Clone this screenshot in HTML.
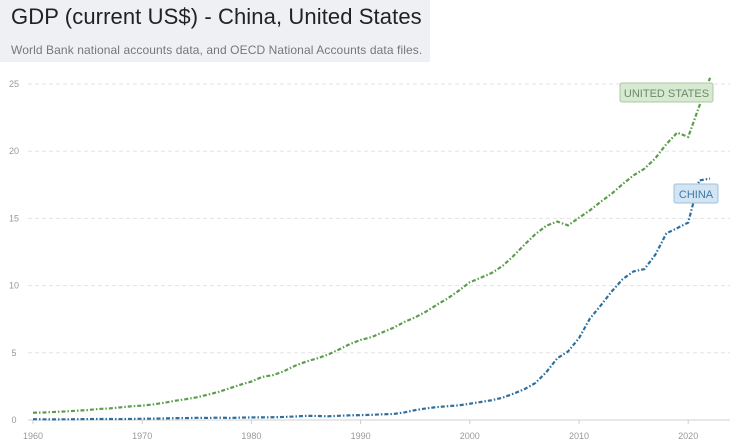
<!DOCTYPE html>
<html><head><meta charset="utf-8"><style>
body{margin:0;width:743px;height:448px;background:#fff;overflow:hidden;font-family:"Liberation Sans",sans-serif}
#hdr{position:absolute;left:0;top:0;width:430px;height:62px;background:#eef0f4}
#title{position:absolute;left:11px;top:4px;font-size:22px;color:#222;letter-spacing:0.1px}
#sub{position:absolute;left:11px;top:43px;font-size:12px;color:#777;letter-spacing:0.1px}
svg{position:absolute;left:0;top:0}
</style></head><body>
<div id="hdr">
<div id="title">GDP (current US$) - China, United States</div>
<div id="sub">World Bank national accounts data, and OECD National Accounts data files.</div>
</div>
<svg id="c" width="743" height="448"></svg>
<script>
const years=[];for(let y=1960;y<=2022;y++)years.push(y);
const usGDP=[0.54,0.56,0.60,0.64,0.69,0.74,0.82,0.86,0.94,1.02,1.07,1.16,1.28,1.43,1.55,1.69,1.88,2.09,2.36,2.63,2.86,3.21,3.34,3.64,4.04,4.34,4.58,4.86,5.24,5.64,5.96,6.16,6.52,6.86,7.29,7.64,8.07,8.58,9.06,9.63,10.25,10.58,10.94,11.46,12.21,13.04,13.82,14.45,14.77,14.48,15.05,15.6,16.25,16.84,17.55,18.21,18.7,19.48,20.53,21.38,21.06,23.32,25.46];
const chinaGDP=[0.06,0.05,0.047,0.051,0.059,0.070,0.076,0.073,0.071,0.080,0.093,0.100,0.114,0.139,0.144,0.163,0.154,0.175,0.150,0.178,0.191,0.196,0.205,0.230,0.260,0.309,0.301,0.273,0.312,0.348,0.361,0.383,0.427,0.445,0.564,0.734,0.864,0.962,1.03,1.09,1.21,1.34,1.47,1.66,1.96,2.29,2.75,3.55,4.59,5.10,6.09,7.55,8.53,9.57,10.48,11.06,11.23,12.31,13.89,14.28,14.69,17.82,17.96];
const yTicks=[0,5,10,15,20,25];
const xTicks=[1960,1970,1980,1990,2000,2010,2020];
const X=y=>33+(y-1960)*10.92, Y=v=>420-v*13.44;
const svg=document.getElementById('c'),NS='http://www.w3.org/2000/svg';
function mk(t,a,txt){const e=document.createElementNS(NS,t);for(const k in a)e.setAttribute(k,a[k]);if(txt!=null)e.textContent=txt;svg.appendChild(e);return e;}
yTicks.forEach(v=>{
 const g=mk('line',{x1:28,x2:730,y1:Y(v),y2:Y(v),stroke:v?'#e3e3e3':'#d0d0d0','stroke-dasharray':v?'4,3':''});
 
 
 const t=mk('text',{x:14,y:Y(v)+3,'font-size':9,fill:'#999','text-anchor':'middle'},v);
 
 
});
xTicks.forEach(yr=>{
 const l=mk('line',{x1:X(yr),x2:X(yr),y1:420,y2:424,stroke:'#ccc'});
 
 
 const t=mk('text',{x:X(yr),y:439,'font-size':9,fill:'#999','text-anchor':'middle'},yr);
 
 
});
function line(data,col,name){
 const p=mk('polyline',{points:data.map((v,i)=>X(years[i])+','+Y(v)).join(' '),fill:'none',stroke:col,'stroke-width':2.2,'stroke-dasharray':'4,2,1.5,2'});
 
 
}
line(usGDP,'#5a9e4b','united-states-line');
line(chinaGDP,'#2e6f9e','china-line');
function label(x,y,w,txt,bg,bd,fg,name){
 const r=mk('rect',{x:x,y:y,width:w,height:19,rx:2,fill:bg,stroke:bd});
 
 
 const t=mk('text',{x:x+w/2,y:y+14,'font-size':11,fill:fg,'text-anchor':'middle'},txt);
 
 
}
label(620,83,93,'UNITED STATES','#d8e9d2','#a9cba0','#6a8a66','us-label');
label(674,184,44,'CHINA','#d3e5f3','#9cc1dd','#3d78a8','china-label');
</script>
</body></html>
